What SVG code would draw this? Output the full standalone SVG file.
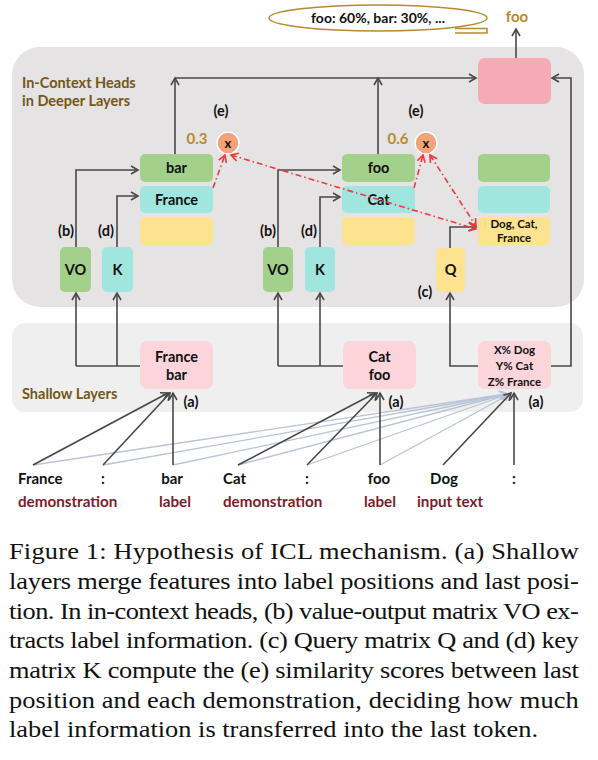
<svg xmlns="http://www.w3.org/2000/svg" width="598" height="760" viewBox="0 0 598 760">
<style>
.b{font-family:Lato,"Open Sans",sans-serif;font-weight:bold;fill:#111}
.t{font-size:14.5px}
.tk{font-size:15px}
.s{font-size:11.5px}
.title{font-family:Lato,"Open Sans",sans-serif;font-weight:bold;font-size:14.5px;fill:#745718}
.gold{font-family:Lato,"Open Sans",sans-serif;font-weight:bold;font-size:15px;fill:#b88a2c}
.red{font-family:Lato,"Open Sans",sans-serif;font-weight:bold;font-size:15.2px;fill:#7c1c2b}
.cap{font-family:"Liberation Serif","Times New Roman",serif;font-size:24px;fill:#111}
.ln{fill:none;stroke:#484848;stroke-width:1.6}
.gl{fill:none;stroke:#b9c5d6;stroke-width:1.3}
.rd{fill:none;stroke:#f0393e;stroke-width:1.6;stroke-dasharray:6 3 1.5 3}
.green{fill:#a3d18b}
.cyan{fill:#a0e6df}
.yel{fill:#fde290}
.pink{fill:#fbd5da}
</style>
<defs>
<marker id="ah" markerUnits="userSpaceOnUse" markerWidth="10" markerHeight="10" refX="8" refY="5" orient="auto">
<path d="M1,1 L8,5 L1,9" fill="none" stroke="#484848" stroke-width="1.6"/>
</marker>
<marker id="ahg" markerUnits="userSpaceOnUse" markerWidth="10" markerHeight="10" refX="8" refY="5" orient="auto">
<path d="M1,1 L8,5 L1,9" fill="none" stroke="#b9c5d6" stroke-width="1.4"/>
</marker>
<marker id="ahr" markerUnits="userSpaceOnUse" markerWidth="10" markerHeight="10" refX="8" refY="5" orient="auto-start-reverse">
<path d="M1,1 L8,5 L1,9" fill="none" stroke="#f0393e" stroke-width="1.6"/>
</marker>
</defs>
<rect width="598" height="760" fill="#fff"/>

<g id="panel-deep">
<rect x="12" y="47" width="572" height="260" rx="28" fill="#e5e3e4"/>
<text class="title" x="22" y="88">In-Context Heads</text>
<text class="title" x="22" y="106">in Deeper Layers</text>
</g>
<g id="panel-shallow">
<rect x="12" y="323" width="571" height="89" rx="13" fill="#efefef"/>
<text class="title" x="22" y="399">Shallow Layers</text>
</g>

<g id="output-dist">
<ellipse cx="378" cy="18" rx="109" ry="13" fill="#fff" stroke="#b88a2c" stroke-width="1.5"/>
<path d="M455,28.5 L487,28.5 L487,33 L455,33" fill="none" stroke="#b88a2c" stroke-width="1.5"/>
<text class="b" x="378" y="23" font-size="14" text-anchor="middle">foo: 60%, bar: 30%, ...</text>
</g>
<g id="output-foo"><text class="gold" x="517" y="22" text-anchor="middle">foo</text></g>
<g id="out-box"><rect x="478" y="58" width="73" height="46" rx="7" fill="#f5aab5"/></g>

<g id="head1">
<rect class="green" x="140" y="154" width="73" height="28" rx="5"/>
<text class="b t" x="176.5" y="173" text-anchor="middle">bar</text>
<rect class="cyan" x="140" y="186" width="73" height="27" rx="5"/>
<text class="b t" x="176.5" y="205" text-anchor="middle">France</text>
<rect class="yel" x="140" y="217" width="73" height="28" rx="5"/>
<rect class="green" x="60" y="247" width="31" height="45" rx="5"/>
<text class="b t" x="75.5" y="275" text-anchor="middle">VO</text>
<rect class="cyan" x="102" y="247" width="31" height="45" rx="5"/>
<text class="b t" x="117.5" y="275" text-anchor="middle">K</text>
<text class="b t" x="66" y="236" text-anchor="middle">(b)</text>
<text class="b t" x="106" y="236" text-anchor="middle">(d)</text>
<circle cx="228" cy="143" r="11" fill="#f4a27a" stroke="#fff" stroke-width="1.5"/>
<text class="b" x="228" y="148" font-size="13" text-anchor="middle">x</text>
<text class="gold" x="197" y="144" text-anchor="middle">0.3</text>
<text class="b t" x="221" y="116" text-anchor="middle">(e)</text>
</g>

<g id="head2">
<rect class="green" x="342" y="154" width="73" height="28" rx="5"/>
<text class="b t" x="378.5" y="173" text-anchor="middle">foo</text>
<rect class="cyan" x="342" y="186" width="73" height="27" rx="5"/>
<text class="b t" x="378.5" y="205" text-anchor="middle">Cat</text>
<rect class="yel" x="342" y="217" width="73" height="28" rx="5"/>
<rect class="green" x="263" y="247" width="30" height="45" rx="5"/>
<text class="b t" x="278" y="275" text-anchor="middle">VO</text>
<rect class="cyan" x="305" y="247" width="30" height="45" rx="5"/>
<text class="b t" x="320" y="275" text-anchor="middle">K</text>
<text class="b t" x="268" y="236" text-anchor="middle">(b)</text>
<text class="b t" x="309" y="236" text-anchor="middle">(d)</text>
<circle cx="426" cy="143" r="11" fill="#f4a27a" stroke="#fff" stroke-width="1.5"/>
<text class="b" x="426" y="148" font-size="13" text-anchor="middle">x</text>
<text class="gold" x="398" y="144" text-anchor="middle">0.6</text>
<text class="b t" x="416" y="116" text-anchor="middle">(e)</text>
</g>

<g id="head-last">
<rect class="green" x="478" y="154" width="72" height="28" rx="5"/>
<rect class="cyan" x="478" y="186" width="72" height="27" rx="5"/>
<rect class="yel" x="478" y="217" width="72" height="28" rx="5"/>
<text class="b s" x="514" y="228" text-anchor="middle">Dog, Cat,</text>
<text class="b s" x="514" y="242" text-anchor="middle">France</text>
<rect class="yel" x="436" y="248" width="29" height="44" rx="5"/>
<text class="b t" x="450.5" y="275" text-anchor="middle">Q</text>
<text class="b t" x="425" y="297" text-anchor="middle">(c)</text>
</g>

<g id="shallow1">
<rect class="pink" x="140" y="341" width="73" height="48" rx="7"/>
<text class="b t" x="176.5" y="362" text-anchor="middle">France</text>
<text class="b t" x="176.5" y="380" text-anchor="middle">bar</text>
<text class="b t" x="191" y="407" text-anchor="middle">(a)</text>
</g>
<g id="shallow2">
<rect class="pink" x="343" y="341" width="73" height="48" rx="7"/>
<text class="b t" x="379.5" y="362" text-anchor="middle">Cat</text>
<text class="b t" x="379.5" y="380" text-anchor="middle">foo</text>
<text class="b t" x="396" y="407" text-anchor="middle">(a)</text>
</g>
<g id="shallow3">
<rect class="pink" x="478" y="341" width="73" height="48" rx="7"/>
<text class="b s" x="514.5" y="354" text-anchor="middle">X% Dog</text>
<text class="b s" x="514.5" y="370" text-anchor="middle">Y% Cat</text>
<text class="b s" x="514.5" y="386" text-anchor="middle">Z% France</text>
<text class="b t" x="536" y="407" text-anchor="middle">(a)</text>
</g>

<g id="tokens">
<text class="b tk" x="18" y="484">France</text>
<text class="b tk" x="103" y="484" text-anchor="middle">:</text>
<text class="b tk" x="172" y="484" text-anchor="middle">bar</text>
<text class="b tk" x="223" y="484">Cat</text>
<text class="b tk" x="307" y="484" text-anchor="middle">:</text>
<text class="b tk" x="379" y="484" text-anchor="middle">foo</text>
<text class="b tk" x="444" y="484" text-anchor="middle">Dog</text>
<text class="b tk" x="514" y="484" text-anchor="middle">:</text>
<text class="red" x="18" y="507">demonstration</text>
<text class="red" x="175" y="507" text-anchor="middle">label</text>
<text class="red" x="223" y="507">demonstration</text>
<text class="red" x="380" y="507" text-anchor="middle">label</text>
<text class="red" x="417" y="507">input text</text>
</g>

<g id="connectors">
<path class="gl" marker-end="url(#ahg)" d="M33,465 L506,394"/>
<path class="gl" marker-end="url(#ahg)" d="M103,465 L507,394"/>
<path class="gl" marker-end="url(#ahg)" d="M173,465 L508,394"/>
<path class="gl" marker-end="url(#ahg)" d="M238,465 L508,394"/>
<path class="gl" marker-end="url(#ahg)" d="M307,465 L509,394"/>
<path class="gl" marker-end="url(#ahg)" d="M380,465 L510,394"/>
<path class="ln" marker-end="url(#ah)" d="M33,465 L168,393"/>
<path class="ln" marker-end="url(#ah)" d="M103,465 L170,393"/>
<path class="ln" marker-end="url(#ah)" d="M173,465 L173,393"/>
<path class="ln" marker-end="url(#ah)" d="M238,465 L375,393"/>
<path class="ln" marker-end="url(#ah)" d="M307,465 L377,393"/>
<path class="ln" marker-end="url(#ah)" d="M380,465 L380,393"/>
<path class="ln" marker-end="url(#ah)" d="M443,465 L511,393"/>
<path class="ln" marker-end="url(#ah)" d="M514,465 L514,393"/>

<path class="ln" d="M140,366 L76,366"/>
<path class="ln" marker-end="url(#ah)" d="M76,366 L76,293"/>
<path class="ln" marker-end="url(#ah)" d="M117,366 L117,293"/>
<path class="ln" d="M343,366 L278,366"/>
<path class="ln" marker-end="url(#ah)" d="M278,366 L278,293"/>
<path class="ln" marker-end="url(#ah)" d="M320,366 L320,293"/>
<path class="ln" marker-end="url(#ah)" d="M478,366 L450,366 L450,293"/>
<path class="ln" marker-end="url(#ah)" d="M551,366 L571,366 L571,78 L552,78"/>

<path class="ln" marker-end="url(#ah)" d="M76,247 L76,170 L138,170"/>
<path class="ln" marker-end="url(#ah)" d="M117,247 L117,196 L138,196"/>
<path class="ln" marker-end="url(#ah)" d="M278,247 L278,170 L340,170"/>
<path class="ln" marker-end="url(#ah)" d="M320,247 L320,197 L340,197"/>
<path class="ln" marker-end="url(#ah)" d="M450,248 L450,227 L476,227"/>

<path class="ln" marker-end="url(#ah)" d="M175,154 L175,78"/>
<path class="ln" marker-end="url(#ah)" d="M378,154 L378,78"/>
<path class="ln" marker-end="url(#ah)" d="M175,78 L476,78"/>
<path class="ln" marker-end="url(#ah)" d="M516,58 L516,29"/>

<path class="rd" marker-end="url(#ahr)" d="M213,188 L225,155"/>
<path class="rd" marker-start="url(#ahr)" marker-end="url(#ahr)" d="M231,155 L476,229"/>
<path class="rd" marker-end="url(#ahr)" d="M414,188 L423,155"/>
<path class="rd" marker-start="url(#ahr)" marker-end="url(#ahr)" d="M430,155 L476,226"/>
</g>

<g id="caption" transform="translate(9,0) scale(1.1,1)">
<text class="cap" x="0" y="559" textLength="518" lengthAdjust="spacing">Figure 1: Hypothesis of ICL mechanism. (a) Shallow</text>
<text class="cap" x="0" y="589" textLength="518" lengthAdjust="spacing">layers merge features into label positions and last posi-</text>
<text class="cap" x="0" y="619" textLength="518" lengthAdjust="spacing">tion. In in-context heads, (b) value-output matrix VO ex-</text>
<text class="cap" x="0" y="648" textLength="518" lengthAdjust="spacing">tracts label information. (c) Query matrix Q and (d) key</text>
<text class="cap" x="0" y="678" textLength="518" lengthAdjust="spacing">matrix K compute the (e) similarity scores between last</text>
<text class="cap" x="0" y="708" textLength="518" lengthAdjust="spacing">position and each demonstration, deciding how much</text>
<text class="cap" x="0" y="737">label information is transferred into the last token.</text>
</g>
</svg>
